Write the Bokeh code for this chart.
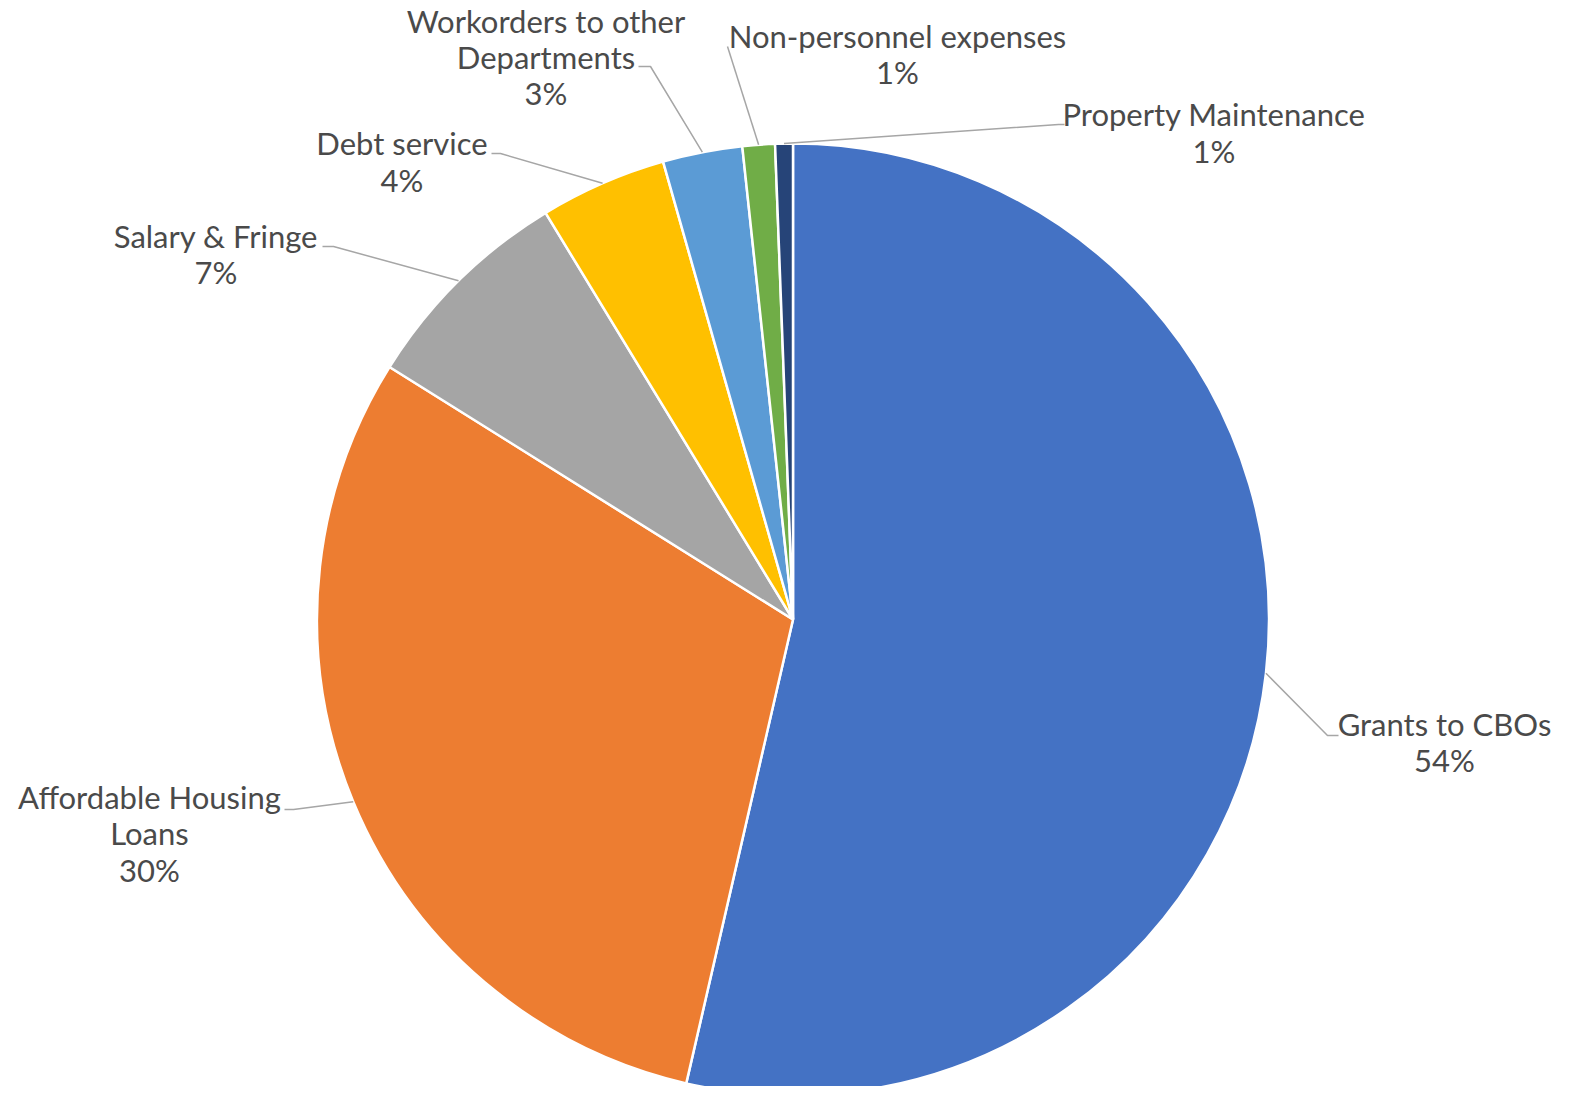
import math
from bokeh.plotting import figure
from bokeh.models import Range1d, ColumnDataSource
from bokeh.core.properties import value
from bokeh.embed import file_html
from bokeh.resources import INLINE

# ---- data ----
categories = ["Grants to CBOs", "Affordable Housing\nLoans", "Salary & Fringe",
              "Debt service", "Workorders to other\nDepartments",
              "Non-personnel expenses", "Property Maintenance"]
shares = [53.6, 30.3, 7.4, 4.3, 2.7, 1.1, 0.6]
colors = ["#4472C4", "#ED7D31", "#A5A5A5", "#FFC000", "#5B9BD5", "#70AD47", "#264478"]

# ---- layout (reference pixel space, y measured from top) ----
W, H = 1554, 1086
cx, cy_top, R = 792.5, 619.0, 476.0
label_pos = [(1444, 741.5), (149, 833), (215.5, 253.5), (401.5, 161),
             (545.5, 56.5), (897, 53.5), (1213.5, 132)]
elbows = [(1327, 735, 1338), (293, 809, 284), (333, 246, 322), (500, 153, 491),
          (650, 66, 638), (727, 46, 727), (1058, 124, 1064)]

def fy(y_top):
    return H - y_top

p = figure(width=W, height=H, output_backend="svg", toolbar_location=None,
           x_range=Range1d(0, W), y_range=Range1d(0, H),
           min_border=0, min_border_left=0, min_border_right=0,
           min_border_top=0, min_border_bottom=0)
p.axis.visible = False
p.grid.visible = False
p.outline_line_color = None
p.background_fill_color = "white"
p.border_fill_color = "white"

total = sum(shares)
cum = 0.0
starts, ends, mids = [], [], []
for v in shares:
    f0 = cum / total
    cum += v
    f1 = cum / total
    starts.append(math.pi / 2 - 2 * math.pi * f0)
    ends.append(math.pi / 2 - 2 * math.pi * f1)
    mids.append((f0 + f1) / 2)

src = ColumnDataSource(dict(x=[cx] * len(shares), y=[fy(cy_top)] * len(shares),
                            start=starts, end=ends, color=colors))
p.wedge(x="x", y="y", radius=R, start_angle="start", end_angle="end",
        direction="clock", fill_color="color", line_color="white",
        line_width=2.5, source=src)

# leader lines
xs, ys = [], []
for m, (ex, ey, endx) in zip(mids, elbows):
    ang = 2 * math.pi * m
    sx = cx + R * math.sin(ang)
    sy = cy_top - R * math.cos(ang)
    xs.append([sx, ex, endx])
    ys.append([fy(sy), fy(ey), fy(ey)])
p.multi_line(xs=xs, ys=ys, line_color="#A6A6A6", line_width=1.5)

texts = [f"{c}\n{round(v / total * 100)}%" for c, v in zip(categories, shares)]
p.text(x=[lp[0] for lp in label_pos], y=[fy(lp[1]) for lp in label_pos], text=texts,
       text_font=value("Lato"), text_font_size="31px", text_color="#4a4a4a",
       text_align="center", text_baseline="middle", text_line_height=0.95)

open("out.html", "w").write(file_html(p, INLINE))
